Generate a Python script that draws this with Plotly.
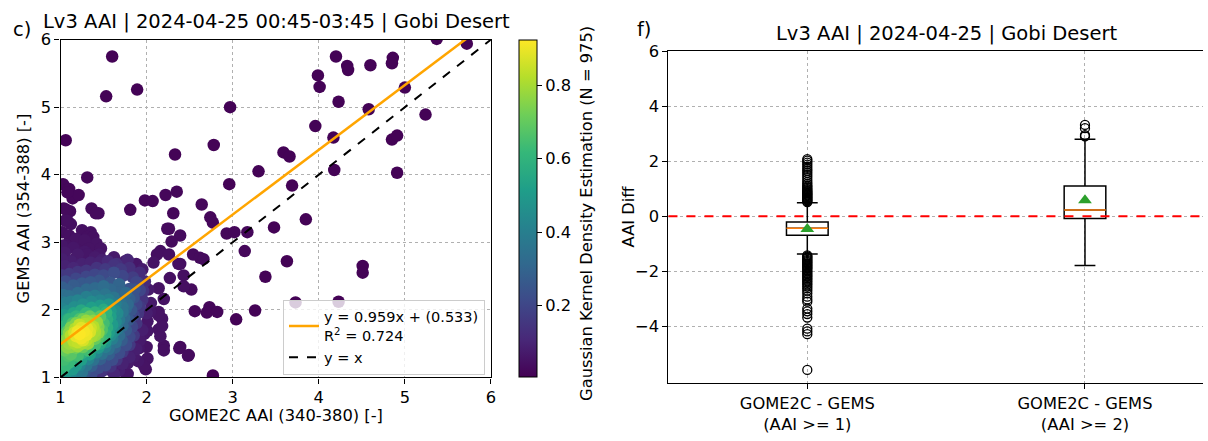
import plotly.graph_objects as go

# ---------------- data: left panel (GOME2C vs GEMS AAI, KDE density) ----------------
# each entry: (GOME2C AAI, GEMS AAI, gaussian KDE density)
band_core = [(1.22,1.64,0.92),(1.27,1.68,0.91),(1.24,1.58,0.90),(1.31,1.72,0.89),(1.18,1.61,0.89),
             (1.30,1.63,0.90),(1.24,1.73,0.88),(1.34,1.67,0.87),(1.20,1.68,0.90)]
band_inner = [(1.15,1.54,0.83),(1.12,1.62,0.82),(1.20,1.52,0.84),(1.38,1.75,0.82),(1.34,1.80,0.80),
              (1.28,1.79,0.81),(1.40,1.68,0.80),(1.17,1.72,0.81),(1.10,1.50,0.78),(1.42,1.82,0.77),
              (1.30,1.55,0.82),(1.08,1.44,0.76),(1.36,1.60,0.80),(1.25,1.50,0.80),
              (1.16,1.66,0.86),(1.26,1.55,0.87),(1.35,1.73,0.85),(1.22,1.78,0.84),(1.30,1.84,0.78),
              (1.38,1.84,0.76),(1.44,1.75,0.74),(1.44,1.66,0.76),(1.32,1.50,0.78),(1.20,1.46,0.78),
              (1.12,1.45,0.76),(1.08,1.56,0.76),(1.10,1.66,0.76),(1.12,1.74,0.74),(1.18,1.80,0.74),
              (1.26,1.86,0.72),(1.40,1.62,0.78),(1.16,1.50,0.80)]
band_green = [(1.05,1.40,0.70),(1.06,1.56,0.72),(1.08,1.68,0.68),(1.14,1.80,0.66),(1.22,1.86,0.66),
              (1.46,1.90,0.68),(1.50,1.80,0.64),(1.48,1.70,0.66),(1.40,1.57,0.70),(1.26,1.45,0.70),
              (1.12,1.34,0.68),(1.34,1.90,0.70),(1.53,1.96,0.60),(1.04,1.26,0.64),(1.18,1.44,0.72),
              (1.44,1.60,0.66),(1.03,1.12,0.60),(1.06,1.18,0.62),(1.30,1.95,0.62),
              (1.02,1.30,0.62),(1.02,1.48,0.66),(1.02,1.62,0.64),(1.05,1.76,0.60),(1.10,1.86,0.60),
              (1.18,1.90,0.60),(1.28,1.92,0.62),(1.40,1.96,0.60),(1.50,2.00,0.56),(1.54,1.86,0.58),
              (1.54,1.74,0.58),(1.52,1.64,0.60),(1.48,1.56,0.62),(1.40,1.48,0.64),(1.32,1.40,0.64),
              (1.20,1.32,0.64),(1.10,1.22,0.62),(1.09,1.32,0.66),(1.58,1.98,0.50)]
band_teal = [(1.02,1.20,0.55),(1.03,1.75,0.58),(1.08,1.86,0.55),(1.15,1.95,0.54),(1.24,1.99,0.55),
             (1.36,2.03,0.52),(1.46,2.06,0.50),(1.56,2.08,0.48),(1.58,1.90,0.52),(1.60,1.78,0.50),
             (1.56,1.66,0.52),(1.46,1.50,0.55),(1.36,1.44,0.56),(1.25,1.36,0.58),(1.15,1.26,0.56),
             (1.08,1.12,0.50),(1.63,1.99,0.45),(1.52,1.58,0.52),(1.04,1.92,0.50),(1.02,1.04,0.48),
             (1.14,1.12,0.50),
             (1.02,1.90,0.46),(1.08,1.98,0.46),(1.16,2.04,0.46),(1.26,2.08,0.46),(1.36,2.12,0.44),
             (1.46,2.14,0.42),(1.56,2.15,0.40),(1.64,2.08,0.40),(1.66,1.95,0.44),(1.64,1.82,0.44),
             (1.62,1.68,0.45),(1.58,1.62,0.46),(1.52,1.52,0.48),(1.44,1.44,0.50),(1.34,1.34,0.52),
             (1.24,1.26,0.52),(1.18,1.18,0.50),(1.06,1.06,0.48),(1.72,2.04,0.36)]
band_blueteal = [(1.02,2.02,0.42),(1.06,2.10,0.40),(1.12,2.12,0.40),(1.20,2.14,0.42),(1.30,2.19,0.40),
                 (1.40,2.21,0.38),(1.52,2.23,0.36),(1.62,2.18,0.36),(1.70,2.10,0.34),(1.72,1.97,0.36),
                 (1.68,1.85,0.38),(1.66,1.72,0.38),(1.60,1.57,0.40),(1.52,1.45,0.40),(1.42,1.37,0.42),
                 (1.32,1.27,0.42),(1.22,1.18,0.42),(1.12,1.05,0.42),(1.03,2.22,0.34),(1.76,2.25,0.32),
                 (1.78,2.08,0.32),(1.25,1.08,0.36),(1.68,2.38,0.30),(1.50,2.35,0.33),
                 (1.02,2.12,0.36),(1.10,2.20,0.34),(1.20,2.25,0.33),(1.30,2.30,0.32),(1.40,2.32,0.32),
                 (1.58,2.30,0.31),(1.68,2.26,0.30),(1.74,2.18,0.30),(1.76,2.02,0.30),(1.74,1.88,0.32),
                 (1.72,1.76,0.32),(1.68,1.62,0.33),(1.64,1.52,0.34),(1.56,1.42,0.34),(1.48,1.35,0.35),
                 (1.38,1.26,0.35),(1.30,1.18,0.36),(1.20,1.10,0.38),(1.80,2.16,0.28),(1.86,2.30,0.24)]
band_blue = [(1.02,2.33,0.28),(1.08,2.29,0.28),(1.15,2.36,0.27),(1.25,2.39,0.26),(1.35,2.41,0.26),
             (1.45,2.43,0.25),(1.58,2.40,0.25),(1.80,2.31,0.24),(1.85,2.18,0.24),(1.82,2.00,0.25),
             (1.79,1.85,0.26),(1.76,1.70,0.26),(1.71,1.55,0.27),(1.63,1.44,0.28),(1.56,1.34,0.28),
             (1.46,1.27,0.28),(1.36,1.17,0.28),(1.28,1.08,0.26),(1.17,1.01,0.30),(1.88,2.41,0.20),
             (1.92,2.29,0.20),(1.62,2.55,0.22),(1.72,2.50,0.20),(1.36,1.05,0.22),
             (1.06,2.42,0.22),(1.18,2.46,0.20),(1.30,2.49,0.20),(1.40,2.52,0.20),(1.50,2.51,0.21),
             (1.84,2.48,0.17),(1.90,2.40,0.17),(1.88,2.08,0.20),(1.85,1.92,0.20),(1.83,1.75,0.20),
             (1.80,1.60,0.21),(1.76,1.48,0.22),(1.68,1.36,0.22),(1.60,1.26,0.22),(1.52,1.18,0.22),
             (1.44,1.14,0.22),(1.30,1.00,0.20),(1.70,2.60,0.16),(1.62,2.66,0.14),(1.96,2.28,0.14),
             (1.92,2.05,0.16)]
band_indigo = [(1.02,2.51,0.16),(1.10,2.53,0.16),(1.20,2.56,0.15),(1.30,2.58,0.15),(1.42,2.62,0.14),
               (1.52,2.60,0.16),(1.65,2.68,0.13),(1.80,2.62,0.13),(1.92,2.55,0.12),(1.98,2.42,0.12),
               (1.95,2.15,0.14),(1.90,1.95,0.15),(1.88,1.80,0.15),(1.85,1.62,0.16),(1.80,1.48,0.16),
               (1.72,1.38,0.16),(1.65,1.26,0.15),(1.58,1.16,0.14),(1.48,1.09,0.14),(1.42,1.02,0.12),
               (1.78,2.74,0.10),(1.55,2.72,0.11),(1.62,1.05,0.10)]
band_purple = [(1.05,2.65,0.09),(1.12,2.72,0.08),(1.05,2.85,0.07),(1.20,2.82,0.07),(1.28,2.86,0.06),
               (1.40,2.78,0.07),(1.08,2.95,0.05),(1.36,2.95,0.05),(1.95,1.70,0.08),(1.92,1.55,0.07),
               (1.88,1.42,0.08),(1.80,1.30,0.09),(1.72,1.20,0.09),(1.68,1.10,0.08),(1.90,1.24,0.06),
               (2.00,1.45,0.05),(1.62,2.78,0.07),(1.75,2.72,0.07),(1.88,2.68,0.06),(1.95,2.60,0.07),
               (2.02,2.30,0.07),(2.05,2.10,0.07),(2.00,1.95,0.08),
               (1.02,2.75,0.08),(1.15,2.62,0.10),(1.25,2.68,0.09),(1.35,2.70,0.09),(1.45,2.70,0.09),
               (1.02,2.95,0.06),(1.15,2.92,0.06),(1.22,2.95,0.05),(1.42,2.98,0.05),(1.25,3.18,0.04),
               (1.02,3.15,0.04),(1.18,3.05,0.05),(1.48,2.74,0.08)]
band_sparse_near = [(1.12,3.27,0.04),(1.05,3.32,0.04),(1.06,2.96,0.05),(1.35,3.15,0.04),(1.28,3.03,0.05),
                    (1.33,2.91,0.05),(1.47,2.91,0.05),(1.18,2.77,0.06),(1.12,2.68,0.07),(1.10,3.10,0.04),
                    (1.31,3.08,0.04),(1.38,3.08,0.04),(1.08,2.94,0.05),(1.31,2.82,0.06),(1.45,2.82,0.06),
                    (1.49,2.61,0.07),(1.58,2.63,0.07),(1.70,2.58,0.07),(2.24,3.20,0.03),(2.39,3.10,0.03),
                    (2.29,3.01,0.03),(2.26,3.20,0.03),(2.16,2.87,0.04),(2.26,2.82,0.04),(2.39,2.68,0.04),
                    (2.54,2.82,0.03),(2.62,2.77,0.03),(2.52,2.30,0.03),(2.43,2.51,0.04),(2.43,2.35,0.04),
                    (2.27,2.47,0.04),(2.37,2.68,0.04),(2.66,2.75,0.03),(2.12,2.82,0.04),(2.08,2.70,0.05),
                    (2.14,2.32,0.05),(2.20,2.16,0.05),(2.14,1.97,0.05),(2.18,1.87,0.05),(2.14,1.71,0.05),
                    (2.01,1.69,0.06),(2.04,1.97,0.06),(2.01,1.83,0.06),(1.97,1.64,0.06),(1.91,1.43,0.06),
                    (1.97,1.21,0.05),(1.99,1.12,0.05),(1.83,1.35,0.07),(1.78,1.21,0.07),(1.76,1.05,0.06),
                    (1.64,1.14,0.08),(1.55,1.12,0.08),(2.39,1.45,0.03),(2.49,1.33,0.03),(2.16,1.61,0.05),
                    (2.18,1.76,0.05),(2.14,1.92,0.05),(2.20,1.47,0.04),(2.20,1.40,0.04),(2.01,1.28,0.05),
                    (1.85,1.31,0.07),(1.49,1.12,0.09),(2.38,1.43,0.03),(2.48,1.32,0.03),(1.78,1.05,0.06),
                    (1.97,1.17,0.05)]
band_sparse_far = [(1.60,5.75,0.01),(1.53,5.16,0.01),(1.89,5.26,0.01),(1.06,4.51,0.01),(2.97,5.00,0.01),
                   (2.33,4.30,0.01),(2.78,4.44,0.01),(1.31,3.96,0.02),(1.03,3.86,0.02),(1.10,3.79,0.02),
                   (1.14,3.65,0.02),(1.21,3.70,0.02),(1.04,3.50,0.03),(1.11,3.46,0.03),(1.36,3.50,0.03),
                   (1.44,3.43,0.03),(1.81,3.48,0.02),(1.98,3.62,0.02),(2.07,3.61,0.02),(2.22,3.70,0.02),
                   (2.35,3.75,0.02),(2.31,3.43,0.02),(2.64,3.56,0.02),(2.74,3.37,0.02),(2.96,3.86,0.01),
                   (3.30,4.05,0.01),(3.59,4.33,0.01),(3.66,4.27,0.01),(3.69,3.84,0.01),(3.85,3.34,0.01),
                   (3.96,4.72,0.01),(3.99,5.47,0.01),(4.01,5.30,0.01),(4.17,4.55,0.01),(4.20,5.75,0.01),
                   (4.23,5.08,0.01),(4.18,4.07,0.01),(4.33,5.61,0.01),(4.34,5.55,0.01),(4.60,5.62,0.01),
                   (4.58,4.97,0.01),(4.86,5.73,0.01),(4.85,5.65,0.01),(4.85,4.52,0.01),(4.91,4.58,0.01),
                   (4.91,4.03,0.01),(5.00,5.29,0.01),(5.24,4.89,0.01),(5.37,6.01,0.01),(5.72,5.94,0.01),
                   (2.77,3.29,0.02),(2.93,3.13,0.02),(3.02,3.15,0.02),(3.17,3.15,0.02),(3.14,2.87,0.02),
                   (3.48,3.22,0.01),(3.63,2.72,0.01),(3.38,2.49,0.01),(3.73,2.11,0.01),(4.23,2.12,0.01),
                   (4.51,2.65,0.01),(4.51,2.55,0.01),(3.26,1.99,0.01),(3.04,1.86,0.01),(2.56,1.98,0.02),
                   (2.73,2.04,0.02),(2.70,1.96,0.02),(2.82,1.97,0.02),(2.77,1.03,0.01),(1.08,3.74,0.02),
                   (1.07,3.48,0.03),(1.41,3.43,0.03),(1.08,3.32,0.04)]

fit_slope = 0.959
fit_intercept = 0.533
fit_r2 = 0.724
fit_x = [1.0, 6.0]
identity_xy = [1.0, 6.0]
n_points = 975

# ---------------- data: right panel (AAI difference boxes) ----------------
box_positions = [1, 2]
box_labels = ["GOME2C - GEMS<br>(AAI >= 1)", "GOME2C - GEMS<br>(AAI >= 2)"]
box_q1 = [-0.69, -0.08]
box_median = [-0.43, 0.23]
box_q3 = [-0.21, 1.10]
box_lower_whisker = [-1.37, -1.79]
box_upper_whisker = [0.49, 2.80]
box_mean = [-0.46, 0.58]
outliers_box1 = [0.52, 0.55, 0.58, 0.61, 0.64, 0.67, 0.70, 0.73, 0.76, 0.79, 0.82, 0.85, 0.88, 0.91,
                 0.95, 0.99, 1.03, 1.08, 1.12, 1.18, 1.25, 1.33, 1.42, 1.50, 1.58, 1.65, 1.72, 1.80,
                 1.88, 1.95, 2.02, 2.08,
                 -1.42, -1.46, -1.50, -1.54, -1.58, -1.62, -1.66, -1.70, -1.74, -1.78, -1.82, -1.86,
                 -1.90, -1.95, -2.00, -2.05, -2.10, -2.15, -2.20, -2.25, -2.30, -2.36, -2.42, -2.48,
                 -2.55, -2.62, -2.70, -2.80, -2.92, -3.02, -3.10, -3.35, -3.45, -3.55, -3.68, -4.08,
                 -4.18, -4.28, -5.58]
outliers_box2 = [2.90, 2.95, 3.20, 3.32]

# ---------------- figure geometry (pixels) ----------------
W, H = 1208, 441
FONT = "DejaVu Sans"
TICK = 16.3
LEGEND = 14.5
TITLE = 19.5

def px(x):
    return x / W

def py(y):
    return 1 - y / H

fig = go.Figure()

all_pts = (band_core + band_inner + band_green + band_teal + band_blueteal + band_blue +
           band_indigo + band_purple + band_sparse_near + band_sparse_far)
all_pts = sorted(all_pts, key=lambda t: t[2])
sx = [p[0] for p in all_pts]
sy = [p[1] for p in all_pts]
sd = [p[2] for p in all_pts]

fig.add_trace(go.Scatter(
    x=sx, y=sy, mode="markers", xaxis="x", yaxis="y", showlegend=False, hoverinfo="skip",
    marker=dict(size=12.5, color=sd, colorscale="Viridis", cmin=0.004, cmax=0.923,
                line=dict(width=0),
                colorbar=dict(x=px(518), xanchor="left", y=py(208.8), yanchor="middle",
                              thickness=18, len=352.3 / H, lenmode="fraction",
                              xpad=0, ypad=0, outlinecolor="black", outlinewidth=1,
                              tickvals=[0.2, 0.4, 0.6, 0.8], ticktext=["0.2", "0.4", "0.6", "0.8"],
                              ticks="outside", ticklen=5, tickwidth=1, tickcolor="black",
                              tickfont=dict(size=TICK, color="black", family=FONT))),
))

fit_y = [fit_slope * v + fit_intercept for v in fit_x]
fig.add_trace(go.Scatter(
    x=fit_x, y=fit_y, mode="lines", xaxis="x", yaxis="y",
    line=dict(color="#ffa500", width=2.5),
    name=f"y = {fit_slope}x + ({fit_intercept})<br>R<sup>2</sup> = {fit_r2}"))
fig.add_trace(go.Scatter(
    x=identity_xy, y=identity_xy, mode="lines", xaxis="x", yaxis="y",
    line=dict(color="black", width=2, dash="dash"), name="y = x"))

# ---- right panel ----
for i, pos in enumerate(box_positions):
    fig.add_trace(go.Box(
        x=[pos], q1=[box_q1[i]], median=[box_median[i]], q3=[box_q3[i]],
        lowerfence=[box_lower_whisker[i]], upperfence=[box_upper_whisker[i]],
        xaxis="x2", yaxis="y2", width=0.15, whiskerwidth=0.5,
        fillcolor="white", line=dict(color="black", width=1.5),
        boxpoints=False, showlegend=False, hoverinfo="skip"))
    fig.add_trace(go.Scatter(
        x=[pos - 0.075, pos + 0.075], y=[box_median[i], box_median[i]], mode="lines",
        xaxis="x2", yaxis="y2", line=dict(color="#ff7f0e", width=1.5),
        showlegend=False, hoverinfo="skip"))

fig.add_trace(go.Scatter(
    x=[box_positions[0]] * len(outliers_box1) + [box_positions[1]] * len(outliers_box2),
    y=outliers_box1 + outliers_box2, mode="markers", xaxis="x2", yaxis="y2",
    marker=dict(symbol="circle-open", size=9, color="black", line=dict(width=1.3)),
    showlegend=False, hoverinfo="skip"))
fig.add_trace(go.Scatter(
    x=box_positions, y=box_mean, mode="markers", xaxis="x2", yaxis="y2",
    marker=dict(symbol="triangle-up", size=12, color="#2ca02c", line=dict(width=0)),
    showlegend=False, hoverinfo="skip"))

fig.add_shape(type="line", xref="x2 domain", yref="y2", x0=0, x1=1, y0=0, y1=0,
              line=dict(color="red", width=2, dash="dash"))

axis_common = dict(showline=True, linecolor="black", linewidth=1.2, ticks="outside", ticklen=5,
                   tickwidth=1.2, tickcolor="black", showgrid=True, gridcolor="#b0b0b0",
                   griddash="dot", gridwidth=1, zeroline=False,
                   tickfont=dict(size=TICK, color="black", family=FONT))

fig.update_layout(
    width=W, height=H, margin=dict(l=0, r=0, t=0, b=0),
    paper_bgcolor="white", plot_bgcolor="white",
    font=dict(family=FONT, color="black", size=TICK),
    xaxis=dict(domain=[px(56), px(490)], range=[1, 6], tickvals=[1, 2, 3, 4, 5, 6],
               anchor="y", mirror=True, **axis_common),
    yaxis=dict(domain=[py(385), py(32)], range=[1, 6], tickvals=[1, 2, 3, 4, 5, 6],
               anchor="x", mirror=True, **axis_common),
    xaxis2=dict(domain=[px(669), 1.0], range=[0.5, 2.425], tickvals=box_positions,
                ticktext=box_labels, anchor="y2", mirror=True, **axis_common),
    yaxis2=dict(domain=[py(391), py(44)], range=[-6.06, 6], tickvals=[-4, -2, 0, 2, 4, 6],
                anchor="x2", **axis_common),
    legend=dict(x=px(484), y=py(382), xanchor="right", yanchor="bottom",
                bgcolor="rgba(255,255,255,0.8)", bordercolor="#cccccc", borderwidth=1,
                font=dict(size=LEGEND, family=FONT, color="black"), itemwidth=30,
                tracegroupgap=2),
    showlegend=True,
)

annotations = [
    dict(x=px(274), y=py(13), text="Lv3 AAI | 2024-04-25 00:45-03:45 | Gobi Desert",
         font=dict(size=TITLE)),
    dict(x=px(949), y=py(26), text="Lv3 AAI | 2024-04-25 | Gobi Desert", font=dict(size=TITLE)),
    dict(x=px(17), y=py(21), text="c)", font=dict(size=TITLE)),
    dict(x=px(644), y=py(21), text="f)", font=dict(size=TITLE)),
    dict(x=px(273), y=py(425), text="GOME2C AAI (340-380) [-]", font=dict(size=TICK)),
    dict(x=px(18.5), y=py(208), text="GEMS AAI (354-388) [-]", textangle=-90, font=dict(size=TICK)),
    dict(x=px(587), y=py(214), text=f"Gaussian Kernel Density Estimation (N = {n_points})",
         textangle=-90, font=dict(size=TICK)),
    dict(x=px(629), y=py(217), text="AAI Diff", textangle=-90, font=dict(size=TICK)),
]
for a in annotations:
    a.update(xref="paper", yref="paper", showarrow=False, xanchor="center", yanchor="middle")
    a["font"].update(family=FONT, color="black")
fig.update_layout(annotations=annotations)

fig.write_html("out.html", config={"displayModeBar": False},
               post_script="document.body.style.margin='0px';")
